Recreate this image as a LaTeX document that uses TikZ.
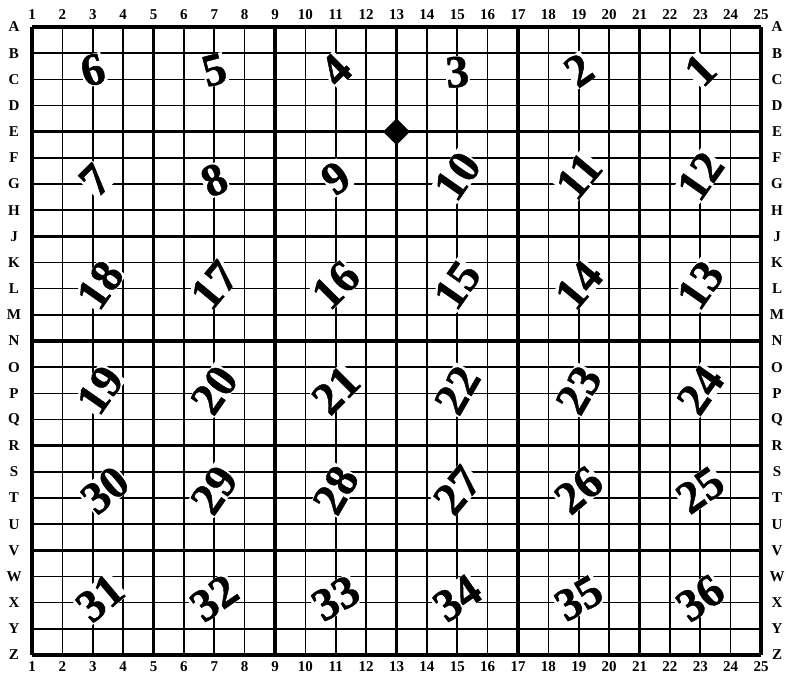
\documentclass[tikz,border=0pt]{standalone}
\usepackage{fontspec}
\setmainfont{Liberation Serif}
\newfontfamily\numfont[FakeBold=1]{Liberation Serif Bold}
\usetikzlibrary{shapes.geometric}
\begin{document}
\begin{tikzpicture}[x=1pt,y=-1pt,
  minor/.style={line width=1.6pt},
  major/.style={line width=3.2pt},
  lab/.style={font=\fontsize{15}{15}\selectfont\bfseries, inner sep=0pt},
  num/.style={font=\fontsize{46}{46}\selectfont\numfont, fill=white, inner sep=0.3pt}]
\useasboundingbox (0,0) rectangle (786,675);
% grid
\foreach \i in {1,...,25} {
  \draw[minor] ({32+(\i-1)*30.375},27) -- ({32+(\i-1)*30.375},655);
}
\foreach \j in {0,...,24} {
  \draw[minor] (32,{27+\j*26.1667}) -- (761,{27+\j*26.1667});
}
\foreach \i in {1,5,...,25} {
  \draw[major] ({32+(\i-1)*30.375},27) -- ({32+(\i-1)*30.375},655);
}
\foreach \j in {0,4,...,24} {
  \draw[major] (32,{27+\j*26.1667}) -- (761,{27+\j*26.1667});
}
% column labels
\foreach \i in {1,...,25} {
  \node[lab] (top\i) at ({32+(\i-1)*30.375},15) {\i};
  \node[lab] (bot\i) at ({32+(\i-1)*30.375},667) {\i};
}
% row labels
\foreach \l [count=\j from 0] in {A,B,C,D,E,F,G,H,J,K,L,M,N,O,P,Q,R,S,T,U,V,W,X,Y,Z} {
  \node[lab] (left\l) at (14,{27+\j*26.1667}) {\l};
  \node[lab] (right\l) at (777,{27+\j*26.1667}) {\l};
}
% numbers
\foreach \n/\x/\y/\r in {
  6/92.75/70/15, 5/214.25/70/15, 4/335.75/70/45, 3/457.25/72/5, 2/578.75/70/35, 1/700.25/70/45,
  7/95/180/45, 8/214.25/180/25, 9/335.75/178/35, 10/457.25/176/55, 11/578.75/176/50, 12/700.25/176/55,
  18/100/285/55, 17/214.25/285/50, 16/335.75/285/45, 15/457.25/285/55, 14/578.75/285/50, 13/700.25/285/55,
  19/100/390/55, 20/214.25/390/55, 21/335.75/390/45, 22/457.25/390/60, 23/578.75/390/60, 24/700.25/390/55,
  30/105/490/40, 29/214.25/490/55, 28/335.75/490/60, 27/457.25/490/50, 26/578.75/490/40, 25/700.25/490/35,
  31/100/598/40, 32/214.25/598/35, 33/335.75/598/30, 34/457.25/598/35, 35/578.75/598/30, 36/700.25/598/35} {
  \node[num, rotate=\r] (n\n) at (\x,\y) {\n};
}
% diamond
\node[diamond, fill=black, minimum size=27pt, inner sep=0pt] (mark) at (396.5,131.7) {};
\end{tikzpicture}
\end{document}
